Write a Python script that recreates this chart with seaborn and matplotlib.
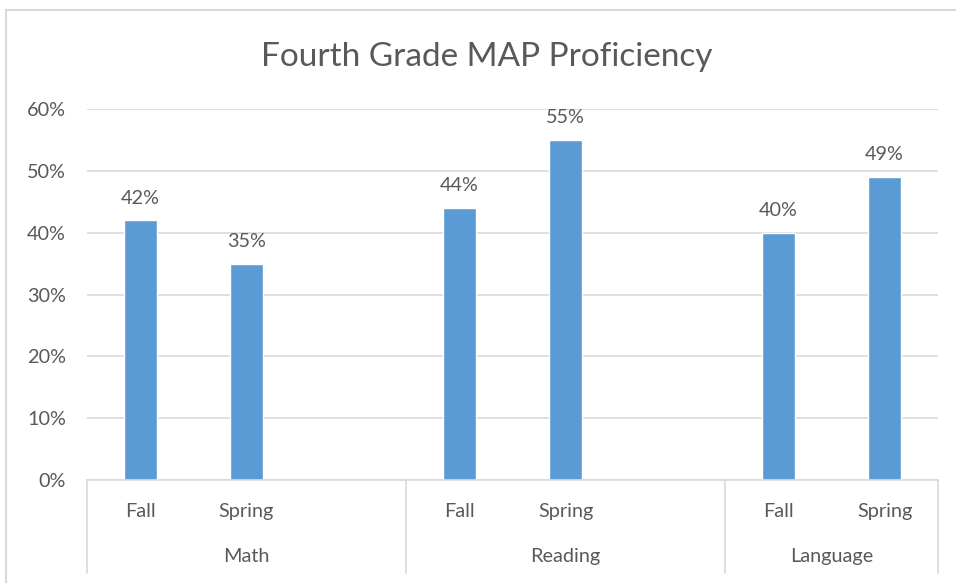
import pandas as pd
import seaborn as sns
import matplotlib.pyplot as plt
from matplotlib.patches import Rectangle
from matplotlib.ticker import PercentFormatter

# data
subjects = ["Math", "Reading", "Language"]
terms = ["Fall", "Spring"]
math_vals = [0.42, 0.35]
reading_vals = [0.44, 0.55]
language_vals = [0.40, 0.49]

rows = []
for subj, vals in zip(subjects, [math_vals, reading_vals, language_vals]):
    for term, v in zip(terms, vals):
        rows.append({"slot": f"{subj} {term}", "subject": subj, "term": term, "pct": v})
df = pd.DataFrame(rows)

# Excel-style layout: a blank slot between subject groups
order = ["Math Fall", "Math Spring", "gap1",
         "Reading Fall", "Reading Spring", "gap2",
         "Language Fall", "Language Spring"]

text_col = "#595959"
grid_col = "#D9D9D9"
bar_col = "#5B9BD5"
fs = 14.3

sns.set_style("white")
plt.rcParams["font.family"] = ["Lato", "DejaVu Sans"]

fig = plt.figure(figsize=(9.56, 5.83), dpi=100)
ax = fig.add_axes([0.091, 0.1767, 0.890, 0.636])

sns.barplot(data=df, x="slot", y="pct", order=order, color=bar_col,
            width=0.31, saturation=1, ax=ax, errorbar=None)

ax.set_ylim(0, 0.6)
ax.set_xlim(-0.5, len(order) - 0.5)
ax.yaxis.set_major_formatter(PercentFormatter(1.0, decimals=0))
ax.set_yticks([0, 0.1, 0.2, 0.3, 0.4, 0.5, 0.6])
ax.grid(axis="y", color=grid_col, linewidth=1.2)
ax.set_axisbelow(True)
for s in ["top", "right", "left"]:
    ax.spines[s].set_visible(False)
ax.spines["bottom"].set_color(grid_col)
ax.spines["bottom"].set_linewidth(1.2)
ax.tick_params(axis="y", length=0, pad=15, labelsize=fs, labelcolor=text_col)
ax.set_xticks([])
ax.set_xlabel("")
ax.set_ylabel("")

# value labels
for cont in ax.containers:
    ax.bar_label(cont, labels=[f"{v * 100:.0f}%" for v in cont.datavalues],
                 padding=10, fontsize=fs, color=text_col)

# two-level category axis
trans = ax.get_xaxis_transform()
for i, slot in enumerate(order):
    if slot.startswith("gap"):
        continue
    ax.text(i, -0.084, slot.split(" ")[1], transform=trans, ha="center", va="center",
            fontsize=fs, color=text_col)
group_edges = [-0.5, 2.5, 5.5, 7.5]
for subj, lo, hi in zip(subjects, group_edges[:-1], group_edges[1:]):
    ax.text((lo + hi) / 2, -0.207, subj, transform=trans,
            ha="center", va="center", fontsize=fs, color=text_col)
for e in group_edges:
    ax.plot([e, e], [0, -0.25], transform=trans, color=grid_col, linewidth=1.2,
            clip_on=False)

fig.text(0.509, 0.903, "Fourth Grade MAP Proficiency", ha="center", va="center",
         fontsize=24, color=text_col)

# chart area border (cropped on the right and bottom)
fig.patches.append(Rectangle((0.0063, -0.1), 1.2, 1.083, transform=fig.transFigure,
                             fill=False, edgecolor=grid_col, linewidth=1.5))

fig.savefig("out.png", dpi=100)
